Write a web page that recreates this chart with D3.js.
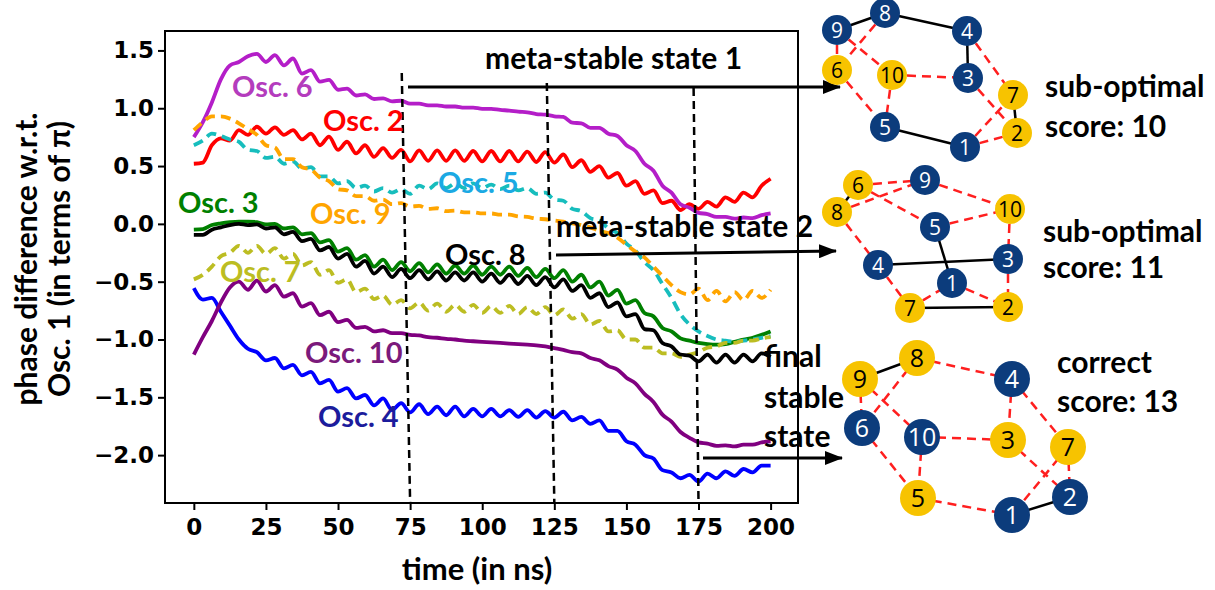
<!DOCTYPE html>
<html>
<head>
<meta charset="utf-8">
<script src="https://cdn.jsdelivr.net/npm/d3@7/dist/d3.min.js"></script>
<style>
body { margin: 0; background: #fff; }
svg text { font-family: Lato, "Open Sans", sans-serif; }
</style>
</head>
<body>
<div id="chart"></div>
<script>
// time axis (ns)
var time = [0, 3.125, 6.25, 9.375, 12.5, 15.625, 18.75, 21.875, 25, 28.125, 31.25, 34.375, 37.5, 40.625, 43.75, 46.875,
    50, 53.125, 56.25, 59.375, 62.5, 65.625, 68.75, 71.875, 75, 78.125, 81.25, 84.375, 87.5, 90.625, 93.75, 96.875,
    100, 103.125, 106.25, 109.375, 112.5, 115.625, 118.75, 121.875, 125, 128.125, 131.25, 134.375, 137.5, 140.625, 143.75, 146.875,
    150, 153.125, 156.25, 159.375, 162.5, 165.625, 168.75, 171.875, 175, 178.125, 181.25, 184.375, 187.5, 190.625, 193.75, 196.875, 200];

// phase difference w.r.t. Osc. 1 (in units of pi)
var osc2 = [0.52, 0.53, 0.68, 0.74, 0.72, 0.81, 0.77, 0.84, 0.78, 0.835, 0.77, 0.81, 0.73, 0.78, 0.68, 0.755,
    0.64, 0.71, 0.61, 0.68, 0.58, 0.655, 0.57, 0.64, 0.54, 0.635, 0.545, 0.635, 0.545, 0.635, 0.545, 0.63,
    0.54, 0.63, 0.54, 0.63, 0.54, 0.625, 0.535, 0.62, 0.53, 0.60, 0.49, 0.55, 0.45, 0.50, 0.40, 0.44,
    0.33, 0.37, 0.26, 0.29, 0.18, 0.20, 0.12, 0.17, 0.13, 0.19, 0.15, 0.23, 0.19, 0.27, 0.23, 0.33, 0.39];
var osc3 = [-0.05, -0.045, -0.01, 0.005, 0.015, 0.02, 0.02, 0.015, -0.005, 0.0, -0.04, -0.03, -0.09, -0.08, -0.16, -0.14,
    -0.24, -0.21, -0.31, -0.27, -0.37, -0.31, -0.40, -0.33, -0.41, -0.34, -0.42, -0.35, -0.43, -0.36, -0.43, -0.36,
    -0.44, -0.37, -0.44, -0.37, -0.45, -0.38, -0.46, -0.39, -0.47, -0.40, -0.50, -0.44, -0.55, -0.50, -0.62, -0.57,
    -0.69, -0.66, -0.77, -0.80, -0.90, -0.93, -0.99, -1.01, -1.03, -1.04, -1.045, -1.04, -1.02, -1.0, -0.985, -0.96, -0.93];
var osc4 = [-0.556, -0.655, -0.64, -0.76, -0.88, -1.0, -1.08, -1.11, -1.18, -1.16, -1.25, -1.22, -1.31, -1.28, -1.38, -1.35,
    -1.45, -1.42, -1.51, -1.48, -1.57, -1.51, -1.61, -1.55, -1.63, -1.56, -1.645, -1.58, -1.655, -1.58, -1.665, -1.60,
    -1.665, -1.60, -1.665, -1.61, -1.67, -1.61, -1.675, -1.62, -1.675, -1.625, -1.70, -1.67, -1.73, -1.70, -1.79, -1.79,
    -1.88, -1.91, -2.00, -2.03, -2.13, -2.15, -2.20, -2.17, -2.23, -2.16, -2.20, -2.14, -2.18, -2.12, -2.15, -2.09, -2.09];
var osc5 = [0.68, 0.72, 0.78, 0.76, 0.73, 0.71, 0.64, 0.63, 0.57, 0.58, 0.52, 0.54, 0.48, 0.49, 0.41, 0.41,
    0.35, 0.37, 0.31, 0.33, 0.28, 0.31, 0.27, 0.30, 0.26, 0.33, 0.30, 0.35, 0.31, 0.35, 0.31, 0.35,
    0.31, 0.34, 0.30, 0.33, 0.29, 0.31, 0.26, 0.27, 0.21, 0.20, 0.13, 0.11, 0.05, 0.03, -0.04, -0.08,
    -0.17, -0.23, -0.33, -0.40, -0.52, -0.64, -0.78, -0.87, -0.93, -0.97, -1.00, -1.01, -1.02, -1.01, -1.00, -0.985, -0.97];
var osc6 = [0.75, 0.88, 1.05, 1.25, 1.37, 1.40, 1.45, 1.47, 1.40, 1.46, 1.37, 1.43, 1.30, 1.33, 1.23, 1.245,
    1.16, 1.17, 1.11, 1.12, 1.08, 1.085, 1.06, 1.065, 1.04, 1.04, 1.025, 1.025, 1.015, 1.015, 1.005, 1.005,
    0.995, 0.995, 0.985, 0.98, 0.97, 0.965, 0.95, 0.945, 0.93, 0.925, 0.875, 0.87, 0.83, 0.83, 0.78, 0.76,
    0.68, 0.63, 0.52, 0.46, 0.33, 0.27, 0.17, 0.14, 0.095, 0.085, 0.06, 0.06, 0.045, 0.055, 0.05, 0.075, 0.09];
var osc7 = [-0.48, -0.44, -0.37, -0.28, -0.25, -0.19, -0.25, -0.19, -0.26, -0.21, -0.30, -0.26, -0.36, -0.33, -0.44, -0.40,
    -0.51, -0.48, -0.59, -0.56, -0.65, -0.62, -0.70, -0.66, -0.73, -0.68, -0.75, -0.69, -0.76, -0.70, -0.76, -0.70,
    -0.77, -0.71, -0.77, -0.71, -0.78, -0.72, -0.78, -0.72, -0.79, -0.74, -0.82, -0.78, -0.87, -0.84, -0.93, -0.92,
    -1.00, -1.00, -1.07, -1.07, -1.12, -1.12, -1.15, -1.13, -1.11, -1.07, -1.06, -1.03, -1.03, -1.01, -1.01, -0.99, -0.98];
var osc8 = [-0.095, -0.095, -0.05, -0.03, -0.01, 0.0, -0.01, -0.005, -0.04, -0.03, -0.09, -0.07, -0.15, -0.13, -0.23, -0.20,
    -0.30, -0.26, -0.37, -0.32, -0.43, -0.37, -0.46, -0.39, -0.47, -0.40, -0.48, -0.41, -0.49, -0.42, -0.49, -0.42,
    -0.50, -0.43, -0.51, -0.44, -0.52, -0.45, -0.53, -0.46, -0.55, -0.48, -0.58, -0.53, -0.64, -0.60, -0.72, -0.68,
    -0.80, -0.78, -0.91, -0.92, -1.03, -1.06, -1.13, -1.14, -1.19, -1.13, -1.20, -1.13, -1.20, -1.13, -1.19, -1.12, -1.15];
var osc9 = [0.81, 0.88, 0.93, 0.93, 0.91, 0.87, 0.82, 0.77, 0.68, 0.66, 0.56, 0.56, 0.49, 0.47, 0.40, 0.37,
    0.30, 0.29, 0.24, 0.24, 0.20, 0.21, 0.17, 0.18, 0.15, 0.155, 0.13, 0.135, 0.11, 0.115, 0.10, 0.10,
    0.09, 0.09, 0.08, 0.08, 0.065, 0.06, 0.045, 0.04, 0.03, 0.02, 0.005, -0.01, -0.03, -0.06, -0.08, -0.12,
    -0.18, -0.24, -0.29, -0.37, -0.45, -0.53, -0.59, -0.61, -0.56, -0.66, -0.58, -0.67, -0.59, -0.66, -0.58, -0.64, -0.57];
var osc10 = [-1.13, -0.98, -0.84, -0.68, -0.55, -0.50, -0.57, -0.49, -0.585, -0.53, -0.63, -0.60, -0.715, -0.685, -0.79, -0.76,
    -0.85, -0.83, -0.90, -0.89, -0.93, -0.92, -0.945, -0.945, -0.96, -0.965, -0.98, -0.985, -0.995, -1.0, -1.01, -1.015,
    -1.02, -1.025, -1.03, -1.035, -1.04, -1.045, -1.05, -1.06, -1.075, -1.09, -1.11, -1.12, -1.16, -1.18, -1.23, -1.26,
    -1.33, -1.38, -1.47, -1.54, -1.65, -1.71, -1.80, -1.85, -1.89, -1.90, -1.92, -1.915, -1.925, -1.91, -1.91, -1.89, -1.88];

var oscNames = ['Osc. 2', 'Osc. 3', 'Osc. 4', 'Osc. 5', 'Osc. 6', 'Osc. 7', 'Osc. 8', 'Osc. 9', 'Osc. 10'];
var oscValues = [osc2, osc3, osc4, osc5, osc6, osc7, osc8, osc9, osc10];

var xTicks = [0, 25, 50, 75, 100, 125, 150, 175, 200];
var yTicks = [-2.0, -1.5, -1.0, -0.5, 0.0, 0.5, 1.0, 1.5];

// marked time instants (ns)
var markTimes = [75, 125, 175];
var markLabels = ['meta-stable state 1', 'meta-stable state 2', 'final stable state'];

// max-cut graphs: edges, node colours (0 = blue, 1 = yellow), score
var graphNodes = [1, 2, 3, 4, 5, 6, 7, 8, 9, 10];
var graphEdges = [
    [[9, 8], [8, 4], [4, 3], [5, 1], [7, 2], [9, 6], [8, 6], [9, 10], [6, 5], [10, 5], [10, 3], [4, 7], [3, 2], [1, 7], [1, 2]],
    [[6, 8], [5, 1], [4, 3], [7, 2], [6, 9], [8, 9], [6, 5], [9, 10], [5, 10], [10, 3], [8, 4], [4, 7], [7, 1], [1, 2], [3, 2]],
    [[9, 8], [1, 2], [8, 4], [9, 6], [8, 6], [9, 10], [4, 3], [4, 7], [6, 5], [10, 3], [10, 5], [3, 2], [7, 1], [7, 2], [5, 1]]
];
var graphSides = [
    [0, 1, 0, 0, 0, 1, 1, 0, 0, 1],
    [0, 1, 0, 0, 0, 1, 1, 1, 0, 1],
    [0, 0, 1, 0, 1, 0, 1, 1, 1, 0]
];
var graphTitles = [['sub-optimal', 'score: 10'], ['sub-optimal', 'score: 11'], ['correct', 'score: 13']];

// ---------------- layout / styles ----------------
var margin = {top: 31, left: 165},
    width = 633,
    height = 472;

var styles = {
    'Osc. 2': {color: '#ff0000', dash: null, label: '#ff0000', lx: 323, ly: 131},
    'Osc. 3': {color: '#008000', dash: null, label: '#008000', lx: 178, ly: 213},
    'Osc. 4': {color: '#0000ff', dash: null, label: '#1c1c9c', lx: 318, ly: 427},
    'Osc. 5': {color: '#17bdbd', dash: '10,6', label: '#1ba9e3', lx: 438, ly: 193},
    'Osc. 6': {color: '#b41ec8', dash: null, label: '#b43cbd', lx: 232, ly: 97},
    'Osc. 7': {color: '#bcbd22', dash: '10,6', label: '#bcbd22', lx: 220, ly: 282},
    'Osc. 8': {color: '#000000', dash: null, label: '#000000', lx: 445, ly: 265},
    'Osc. 9': {color: '#ffa500', dash: '10,6', label: '#ffa500', lx: 310, ly: 224},
    'Osc. 10': {color: '#800080', dash: null, label: '#7b1a7b', lx: 305, ly: 363}
};

// node pixel positions for each graph, indexed by node number
var nodePos = [
    {1: [965, 147], 2: [1017, 133], 3: [968, 78], 4: [967, 31], 5: [885, 127], 6: [837, 70], 7: [1013, 95], 8: [885, 13], 9: [837, 30], 10: [892, 75]},
    {1: [952, 283], 2: [1008, 307], 3: [1008, 259], 4: [878, 265], 5: [935, 227], 6: [858, 185], 7: [910, 308], 8: [837, 212], 9: [925, 180], 10: [1010, 209]},
    {1: [1012, 515], 2: [1070, 497], 3: [1008, 440], 4: [1012, 379], 5: [918, 498], 6: [862, 428], 7: [1068, 447], 8: [917, 358], 9: [860, 379], 10: [922, 437]}
];
var nodeR = [15, 15, 18];
var nodeFont = [21, 21, 25];
var titlePos = [[1045, 97, 137], [1043, 242, 278], [1057, 373, 412]];

var svg = d3.select('#chart')
    .append('svg')
    .attr('width', 1215)
    .attr('height', 590);

var defs = svg.append('defs');
defs.append('marker')
    .attr('id', 'arrow')
    .attr('viewBox', '0 0 18 14')
    .attr('markerUnits', 'userSpaceOnUse')
    .attr('markerWidth', 18)
    .attr('markerHeight', 14)
    .attr('refX', 17)
    .attr('refY', 7)
    .attr('orient', 'auto')
    .append('path')
    .attr('d', 'M0,0 L18,7 L0,14 Z')
    .attr('fill', '#000');

var x = d3.scaleLinear().domain([-10, 209.5]).range([0, width]);
var y = d3.scaleLinear().domain([-2.414, 1.668]).range([height, 0]);

var main = svg.append('g')
    .attr('transform', 'translate(' + margin.left + ',' + margin.top + ')');

// axes
var xAxis = d3.axisBottom(x).tickValues(xTicks).tickFormat(d3.format('d'))
    .tickSize(7).tickSizeOuter(0).tickPadding(9);
var yAxis = d3.axisLeft(y).tickValues(yTicks).tickFormat(d3.format('.1f'))
    .tickSize(7).tickSizeOuter(0).tickPadding(4);

main.append('g')
    .attr('class', 'axis')
    .attr('transform', 'translate(0,' + height + ')')
    .call(xAxis);
main.append('g')
    .attr('class', 'axis')
    .call(yAxis);

main.selectAll('.axis .domain').remove();
main.selectAll('.axis line').attr('stroke', '#000').attr('stroke-width', 2);
main.selectAll('.axis text')
    .attr('fill', '#000')
    .style('font-family', '"DejaVu Sans", sans-serif')
    .style('font-weight', 'bold')
    .style('font-size', '23px');

// frame
main.append('rect')
    .attr('x', 0).attr('y', 0)
    .attr('width', width).attr('height', height)
    .attr('fill', 'none')
    .attr('stroke', '#000')
    .attr('stroke-width', 2);

// series lines
var line = d3.line()
    .x(function (d) { return x(d[0]); })
    .y(function (d) { return y(d[1]); })
    .curve(d3.curveMonotoneX);

var lines = main.append('g');
for (var i = 0; i < oscNames.length; i++) {
    var st = styles[oscNames[i]];
    var pts = time.map(function (t, j) { return [t, oscValues[i][j]]; });
    lines.append('path')
        .datum(pts)
        .attr('d', line)
        .attr('fill', 'none')
        .attr('stroke', st.color)
        .attr('stroke-width', 3.8)
        .attr('stroke-linejoin', 'round')
        .attr('stroke-dasharray', st.dash);
}

// vertical dashed markers (slightly slanted, as hand drawn)
var markTops = [[72.1, 1.305], [122.4, 1.219], [173.3, 1.175]];
for (var i = 0; i < markTimes.length; i++) {
    main.append('line')
        .attr('x1', x(markTops[i][0])).attr('y1', y(markTops[i][1]))
        .attr('x2', x(markTimes[i])).attr('y2', height)
        .attr('stroke', '#000')
        .attr('stroke-width', 2.5)
        .attr('stroke-dasharray', '8,5');
}

// series labels
for (var i = 0; i < oscNames.length; i++) {
    var st = styles[oscNames[i]];
    svg.append('text')
        .attr('x', st.lx).attr('y', st.ly)
        .attr('fill', st.label)
        .style('font-size', '29px')
        .style('font-weight', 'bold')
        .text(oscNames[i]);
}

// axis titles
svg.append('text')
    .attr('x', 477).attr('y', 580)
    .attr('text-anchor', 'middle')
    .style('font-size', '31px').style('font-weight', 'bold')
    .text('time (in ns)');
svg.append('text')
    .attr('transform', 'translate(37,259) rotate(-90)')
    .attr('text-anchor', 'middle')
    .style('font-size', '30px').style('font-weight', 'bold')
    .text('phase difference w.r.t.');
svg.append('text')
    .attr('transform', 'translate(70,259) rotate(-90)')
    .attr('text-anchor', 'middle')
    .style('font-size', '30px').style('font-weight', 'bold')
    .text('Osc. 1 (in terms of \u03c0)');

// state annotations and arrows
var ann = svg.append('g').style('font-size', '30px').style('font-weight', 'bold');
ann.append('text').attr('x', 485).attr('y', 69).text(markLabels[0]);
ann.append('text').attr('x', 556).attr('y', 237).text(markLabels[1]);
var finalWords = markLabels[2].split(' ');
var finalY = [367, 408, 447];
for (var i = 0; i < finalWords.length; i++) {
    ann.append('text').attr('x', 764).attr('y', finalY[i]).text(finalWords[i]);
}

var arrows = [[408, 87, 840, 87], [556, 255, 836, 251], [703, 458, 842, 458]];
svg.selectAll('.arrow')
    .data(arrows)
    .enter()
    .append('line')
    .attr('class', 'arrow')
    .attr('x1', function (d) { return d[0]; })
    .attr('y1', function (d) { return d[1]; })
    .attr('x2', function (d) { return d[2]; })
    .attr('y2', function (d) { return d[3]; })
    .attr('stroke', '#000')
    .attr('stroke-width', 3)
    .attr('marker-end', 'url(#arrow)');

// graphs
for (var g = 0; g < 3; g++) {
    var gg = svg.append('g');
    var pos = nodePos[g];
    var sides = graphSides[g];
    graphEdges[g].forEach(function (e) {
        var cut = sides[e[0] - 1] != sides[e[1] - 1];
        gg.append('line')
            .attr('x1', pos[e[0]][0]).attr('y1', pos[e[0]][1])
            .attr('x2', pos[e[1]][0]).attr('y2', pos[e[1]][1])
            .attr('stroke', cut ? '#ff1f1f' : '#000')
            .attr('stroke-width', 2.5)
            .attr('stroke-dasharray', cut ? '9,6' : null);
    });
    graphNodes.forEach(function (n) {
        var yellow = sides[n - 1] == 1;
        gg.append('circle')
            .attr('cx', pos[n][0]).attr('cy', pos[n][1])
            .attr('r', nodeR[g])
            .attr('fill', yellow ? '#f7c300' : '#0c3c7c');
        gg.append('text')
            .attr('x', pos[n][0]).attr('y', pos[n][1])
            .attr('dy', '0.36em')
            .attr('text-anchor', 'middle')
            .attr('fill', yellow ? '#000' : '#fff')
            .style('font-family', '"Open Sans", sans-serif')
            .style('font-size', nodeFont[g] + 'px')
            .text(n);
    });
    var tp = titlePos[g];
    gg.append('text').attr('x', tp[0]).attr('y', tp[1])
        .style('font-size', '30px').style('font-weight', 'bold').text(graphTitles[g][0]);
    gg.append('text').attr('x', tp[0]).attr('y', tp[2])
        .style('font-size', '30px').style('font-weight', 'bold').text(graphTitles[g][1]);
}
</script>
</body>
</html>
